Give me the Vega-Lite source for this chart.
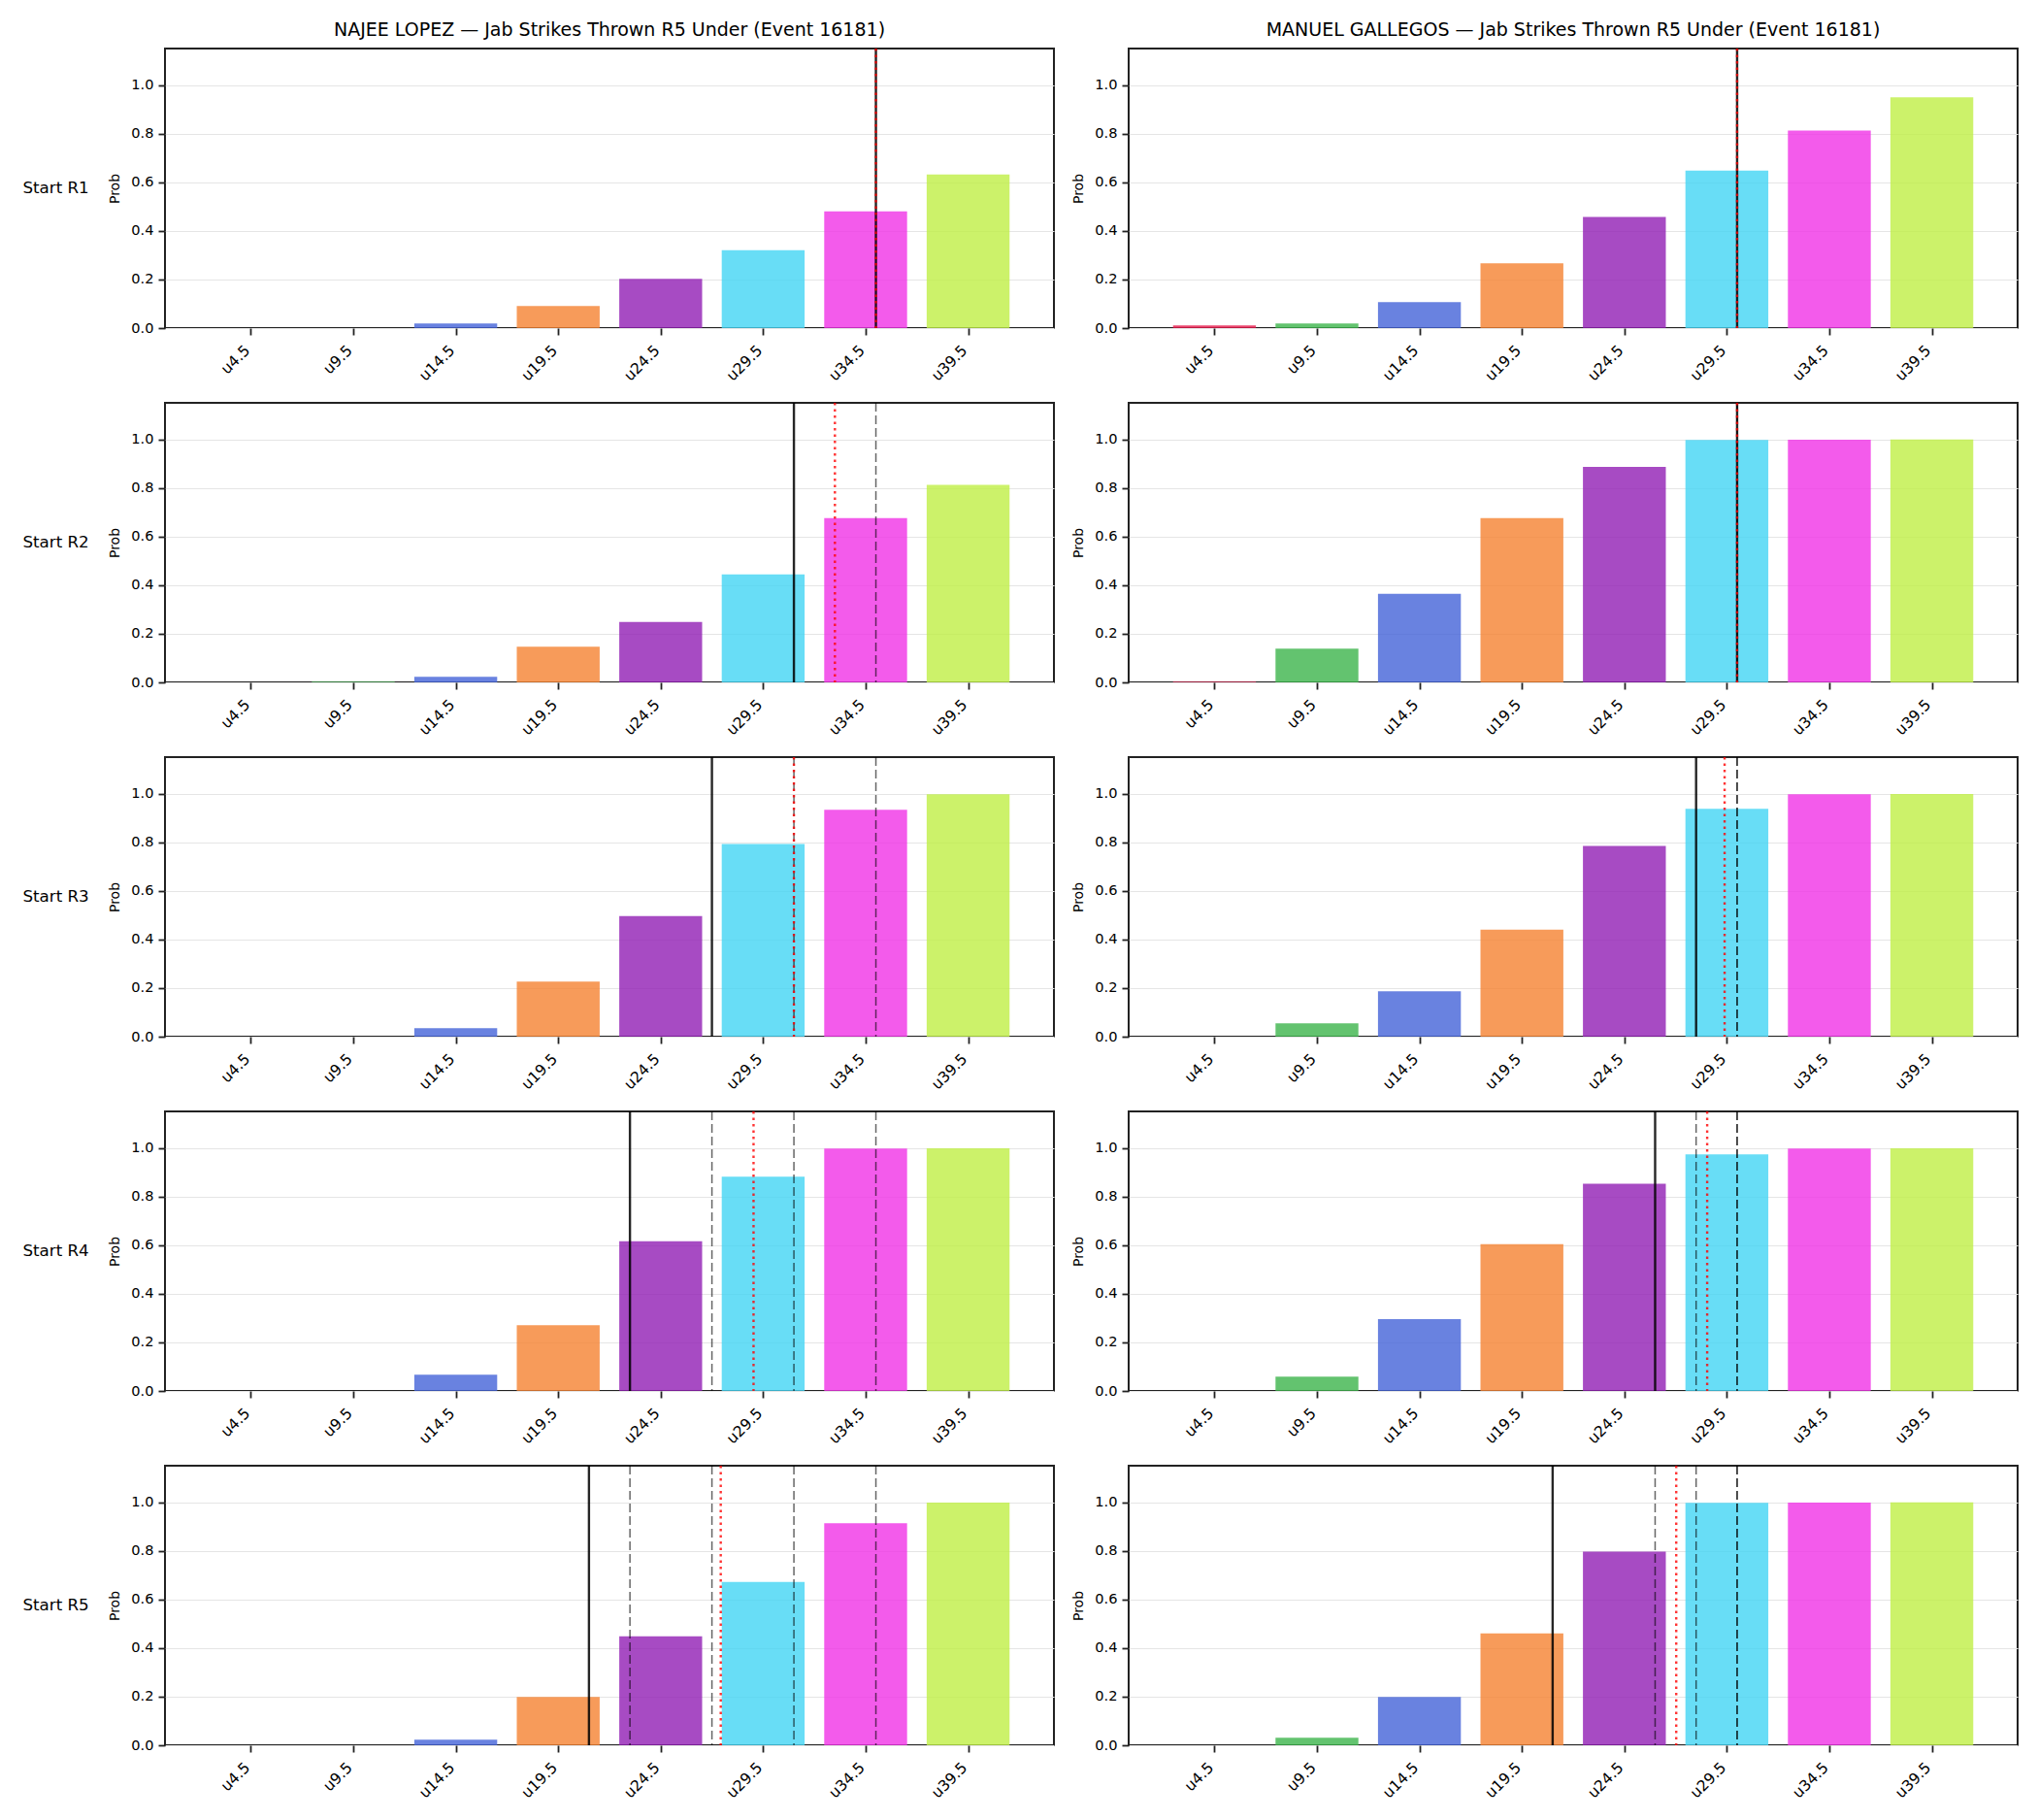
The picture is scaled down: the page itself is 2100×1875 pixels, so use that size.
{
  "$schema": "https://vega.github.io/schema/vega-lite/v6.json",
  "padding": {"left": 23, "top": 22, "right": 17, "bottom": 5},
  "config": {
    "font": "DejaVu Sans",
    "view": {"stroke": "#222", "strokeWidth": 2},
    "axis": {"labelColor": "#000", "titleColor": "#000", "tickColor": "#222", "domain": false}
  },
  "data": {
    "values": [
      {"fighter": "NAJEE LOPEZ", "round": "Start R1", "kind": "prob", "strikes": 4.5, "prob": 0},
      {"fighter": "NAJEE LOPEZ", "round": "Start R1", "kind": "prob", "strikes": 9.5, "prob": 0},
      {"fighter": "NAJEE LOPEZ", "round": "Start R1", "kind": "prob", "strikes": 14.5, "prob": 0.019},
      {"fighter": "NAJEE LOPEZ", "round": "Start R1", "kind": "prob", "strikes": 19.5, "prob": 0.091},
      {"fighter": "NAJEE LOPEZ", "round": "Start R1", "kind": "prob", "strikes": 24.5, "prob": 0.203},
      {"fighter": "NAJEE LOPEZ", "round": "Start R1", "kind": "prob", "strikes": 29.5, "prob": 0.32},
      {"fighter": "NAJEE LOPEZ", "round": "Start R1", "kind": "prob", "strikes": 34.5, "prob": 0.48},
      {"fighter": "NAJEE LOPEZ", "round": "Start R1", "kind": "prob", "strikes": 39.5, "prob": 0.632},
      {"fighter": "NAJEE LOPEZ", "round": "Start R2", "kind": "prob", "strikes": 4.5, "prob": 0},
      {"fighter": "NAJEE LOPEZ", "round": "Start R2", "kind": "prob", "strikes": 9.5, "prob": 0.003},
      {"fighter": "NAJEE LOPEZ", "round": "Start R2", "kind": "prob", "strikes": 14.5, "prob": 0.023},
      {"fighter": "NAJEE LOPEZ", "round": "Start R2", "kind": "prob", "strikes": 19.5, "prob": 0.147},
      {"fighter": "NAJEE LOPEZ", "round": "Start R2", "kind": "prob", "strikes": 24.5, "prob": 0.249},
      {"fighter": "NAJEE LOPEZ", "round": "Start R2", "kind": "prob", "strikes": 29.5, "prob": 0.444},
      {"fighter": "NAJEE LOPEZ", "round": "Start R2", "kind": "prob", "strikes": 34.5, "prob": 0.676},
      {"fighter": "NAJEE LOPEZ", "round": "Start R2", "kind": "prob", "strikes": 39.5, "prob": 0.813},
      {"fighter": "NAJEE LOPEZ", "round": "Start R3", "kind": "prob", "strikes": 4.5, "prob": 0},
      {"fighter": "NAJEE LOPEZ", "round": "Start R3", "kind": "prob", "strikes": 9.5, "prob": 0},
      {"fighter": "NAJEE LOPEZ", "round": "Start R3", "kind": "prob", "strikes": 14.5, "prob": 0.035},
      {"fighter": "NAJEE LOPEZ", "round": "Start R3", "kind": "prob", "strikes": 19.5, "prob": 0.227},
      {"fighter": "NAJEE LOPEZ", "round": "Start R3", "kind": "prob", "strikes": 24.5, "prob": 0.496},
      {"fighter": "NAJEE LOPEZ", "round": "Start R3", "kind": "prob", "strikes": 29.5, "prob": 0.793},
      {"fighter": "NAJEE LOPEZ", "round": "Start R3", "kind": "prob", "strikes": 34.5, "prob": 0.933},
      {"fighter": "NAJEE LOPEZ", "round": "Start R3", "kind": "prob", "strikes": 39.5, "prob": 0.997},
      {"fighter": "NAJEE LOPEZ", "round": "Start R4", "kind": "prob", "strikes": 4.5, "prob": 0},
      {"fighter": "NAJEE LOPEZ", "round": "Start R4", "kind": "prob", "strikes": 9.5, "prob": 0},
      {"fighter": "NAJEE LOPEZ", "round": "Start R4", "kind": "prob", "strikes": 14.5, "prob": 0.067},
      {"fighter": "NAJEE LOPEZ", "round": "Start R4", "kind": "prob", "strikes": 19.5, "prob": 0.271},
      {"fighter": "NAJEE LOPEZ", "round": "Start R4", "kind": "prob", "strikes": 24.5, "prob": 0.616},
      {"fighter": "NAJEE LOPEZ", "round": "Start R4", "kind": "prob", "strikes": 29.5, "prob": 0.881},
      {"fighter": "NAJEE LOPEZ", "round": "Start R4", "kind": "prob", "strikes": 34.5, "prob": 0.997},
      {"fighter": "NAJEE LOPEZ", "round": "Start R4", "kind": "prob", "strikes": 39.5, "prob": 0.998},
      {"fighter": "NAJEE LOPEZ", "round": "Start R5", "kind": "prob", "strikes": 4.5, "prob": 0},
      {"fighter": "NAJEE LOPEZ", "round": "Start R5", "kind": "prob", "strikes": 9.5, "prob": 0},
      {"fighter": "NAJEE LOPEZ", "round": "Start R5", "kind": "prob", "strikes": 14.5, "prob": 0.023},
      {"fighter": "NAJEE LOPEZ", "round": "Start R5", "kind": "prob", "strikes": 19.5, "prob": 0.199},
      {"fighter": "NAJEE LOPEZ", "round": "Start R5", "kind": "prob", "strikes": 24.5, "prob": 0.448},
      {"fighter": "NAJEE LOPEZ", "round": "Start R5", "kind": "prob", "strikes": 29.5, "prob": 0.672},
      {"fighter": "NAJEE LOPEZ", "round": "Start R5", "kind": "prob", "strikes": 34.5, "prob": 0.913},
      {"fighter": "NAJEE LOPEZ", "round": "Start R5", "kind": "prob", "strikes": 39.5, "prob": 0.998},
      {"fighter": "MANUEL GALLEGOS", "round": "Start R1", "kind": "prob", "strikes": 4.5, "prob": 0.011},
      {"fighter": "MANUEL GALLEGOS", "round": "Start R1", "kind": "prob", "strikes": 9.5, "prob": 0.019},
      {"fighter": "MANUEL GALLEGOS", "round": "Start R1", "kind": "prob", "strikes": 14.5, "prob": 0.107},
      {"fighter": "MANUEL GALLEGOS", "round": "Start R1", "kind": "prob", "strikes": 19.5, "prob": 0.267},
      {"fighter": "MANUEL GALLEGOS", "round": "Start R1", "kind": "prob", "strikes": 24.5, "prob": 0.457},
      {"fighter": "MANUEL GALLEGOS", "round": "Start R1", "kind": "prob", "strikes": 29.5, "prob": 0.648},
      {"fighter": "MANUEL GALLEGOS", "round": "Start R1", "kind": "prob", "strikes": 34.5, "prob": 0.813},
      {"fighter": "MANUEL GALLEGOS", "round": "Start R1", "kind": "prob", "strikes": 39.5, "prob": 0.949},
      {"fighter": "MANUEL GALLEGOS", "round": "Start R2", "kind": "prob", "strikes": 4.5, "prob": 0.003},
      {"fighter": "MANUEL GALLEGOS", "round": "Start R2", "kind": "prob", "strikes": 9.5, "prob": 0.139},
      {"fighter": "MANUEL GALLEGOS", "round": "Start R2", "kind": "prob", "strikes": 14.5, "prob": 0.364},
      {"fighter": "MANUEL GALLEGOS", "round": "Start R2", "kind": "prob", "strikes": 19.5, "prob": 0.676},
      {"fighter": "MANUEL GALLEGOS", "round": "Start R2", "kind": "prob", "strikes": 24.5, "prob": 0.886},
      {"fighter": "MANUEL GALLEGOS", "round": "Start R2", "kind": "prob", "strikes": 29.5, "prob": 0.997},
      {"fighter": "MANUEL GALLEGOS", "round": "Start R2", "kind": "prob", "strikes": 34.5, "prob": 0.998},
      {"fighter": "MANUEL GALLEGOS", "round": "Start R2", "kind": "prob", "strikes": 39.5, "prob": 0.999},
      {"fighter": "MANUEL GALLEGOS", "round": "Start R3", "kind": "prob", "strikes": 4.5, "prob": 0},
      {"fighter": "MANUEL GALLEGOS", "round": "Start R3", "kind": "prob", "strikes": 9.5, "prob": 0.055},
      {"fighter": "MANUEL GALLEGOS", "round": "Start R3", "kind": "prob", "strikes": 14.5, "prob": 0.187},
      {"fighter": "MANUEL GALLEGOS", "round": "Start R3", "kind": "prob", "strikes": 19.5, "prob": 0.44},
      {"fighter": "MANUEL GALLEGOS", "round": "Start R3", "kind": "prob", "strikes": 24.5, "prob": 0.785},
      {"fighter": "MANUEL GALLEGOS", "round": "Start R3", "kind": "prob", "strikes": 29.5, "prob": 0.937},
      {"fighter": "MANUEL GALLEGOS", "round": "Start R3", "kind": "prob", "strikes": 34.5, "prob": 0.997},
      {"fighter": "MANUEL GALLEGOS", "round": "Start R3", "kind": "prob", "strikes": 39.5, "prob": 0.998},
      {"fighter": "MANUEL GALLEGOS", "round": "Start R4", "kind": "prob", "strikes": 4.5, "prob": 0},
      {"fighter": "MANUEL GALLEGOS", "round": "Start R4", "kind": "prob", "strikes": 9.5, "prob": 0.059},
      {"fighter": "MANUEL GALLEGOS", "round": "Start R4", "kind": "prob", "strikes": 14.5, "prob": 0.295},
      {"fighter": "MANUEL GALLEGOS", "round": "Start R4", "kind": "prob", "strikes": 19.5, "prob": 0.604},
      {"fighter": "MANUEL GALLEGOS", "round": "Start R4", "kind": "prob", "strikes": 24.5, "prob": 0.853},
      {"fighter": "MANUEL GALLEGOS", "round": "Start R4", "kind": "prob", "strikes": 29.5, "prob": 0.973},
      {"fighter": "MANUEL GALLEGOS", "round": "Start R4", "kind": "prob", "strikes": 34.5, "prob": 0.997},
      {"fighter": "MANUEL GALLEGOS", "round": "Start R4", "kind": "prob", "strikes": 39.5, "prob": 0.998},
      {"fighter": "MANUEL GALLEGOS", "round": "Start R5", "kind": "prob", "strikes": 4.5, "prob": 0},
      {"fighter": "MANUEL GALLEGOS", "round": "Start R5", "kind": "prob", "strikes": 9.5, "prob": 0.031},
      {"fighter": "MANUEL GALLEGOS", "round": "Start R5", "kind": "prob", "strikes": 14.5, "prob": 0.199},
      {"fighter": "MANUEL GALLEGOS", "round": "Start R5", "kind": "prob", "strikes": 19.5, "prob": 0.46},
      {"fighter": "MANUEL GALLEGOS", "round": "Start R5", "kind": "prob", "strikes": 24.5, "prob": 0.797},
      {"fighter": "MANUEL GALLEGOS", "round": "Start R5", "kind": "prob", "strikes": 29.5, "prob": 0.997},
      {"fighter": "MANUEL GALLEGOS", "round": "Start R5", "kind": "prob", "strikes": 34.5, "prob": 0.998},
      {"fighter": "MANUEL GALLEGOS", "round": "Start R5", "kind": "prob", "strikes": 39.5, "prob": 0.999},

      {"fighter": "NAJEE LOPEZ", "round": "Start R1", "kind": "current", "strikes": 35},
      {"fighter": "NAJEE LOPEZ", "round": "Start R2", "kind": "current", "strikes": 31},
      {"fighter": "NAJEE LOPEZ", "round": "Start R3", "kind": "current", "strikes": 27},
      {"fighter": "NAJEE LOPEZ", "round": "Start R4", "kind": "current", "strikes": 23},
      {"fighter": "NAJEE LOPEZ", "round": "Start R5", "kind": "current", "strikes": 21},
      {"fighter": "MANUEL GALLEGOS", "round": "Start R1", "kind": "current", "strikes": 30},
      {"fighter": "MANUEL GALLEGOS", "round": "Start R2", "kind": "current", "strikes": 30},
      {"fighter": "MANUEL GALLEGOS", "round": "Start R3", "kind": "current", "strikes": 28},
      {"fighter": "MANUEL GALLEGOS", "round": "Start R4", "kind": "current", "strikes": 26},
      {"fighter": "MANUEL GALLEGOS", "round": "Start R5", "kind": "current", "strikes": 21},

      {"fighter": "NAJEE LOPEZ", "round": "Start R1", "kind": "market", "strikes": 35},
      {"fighter": "NAJEE LOPEZ", "round": "Start R2", "kind": "market", "strikes": 33},
      {"fighter": "NAJEE LOPEZ", "round": "Start R3", "kind": "market", "strikes": 31},
      {"fighter": "NAJEE LOPEZ", "round": "Start R4", "kind": "market", "strikes": 29.03},
      {"fighter": "NAJEE LOPEZ", "round": "Start R5", "kind": "market", "strikes": 27.43},
      {"fighter": "MANUEL GALLEGOS", "round": "Start R1", "kind": "market", "strikes": 30},
      {"fighter": "MANUEL GALLEGOS", "round": "Start R2", "kind": "market", "strikes": 30},
      {"fighter": "MANUEL GALLEGOS", "round": "Start R3", "kind": "market", "strikes": 29.39},
      {"fighter": "MANUEL GALLEGOS", "round": "Start R4", "kind": "market", "strikes": 28.54},
      {"fighter": "MANUEL GALLEGOS", "round": "Start R5", "kind": "market", "strikes": 27.03},

      {"fighter": "NAJEE LOPEZ", "round": "Start R2", "kind": "previous", "strikes": 35},
      {"fighter": "NAJEE LOPEZ", "round": "Start R3", "kind": "previous", "strikes": 35},
      {"fighter": "NAJEE LOPEZ", "round": "Start R3", "kind": "previous", "strikes": 31},
      {"fighter": "NAJEE LOPEZ", "round": "Start R4", "kind": "previous", "strikes": 35},
      {"fighter": "NAJEE LOPEZ", "round": "Start R4", "kind": "previous", "strikes": 31},
      {"fighter": "NAJEE LOPEZ", "round": "Start R4", "kind": "previous", "strikes": 27},
      {"fighter": "NAJEE LOPEZ", "round": "Start R5", "kind": "previous", "strikes": 35},
      {"fighter": "NAJEE LOPEZ", "round": "Start R5", "kind": "previous", "strikes": 31},
      {"fighter": "NAJEE LOPEZ", "round": "Start R5", "kind": "previous", "strikes": 27},
      {"fighter": "NAJEE LOPEZ", "round": "Start R5", "kind": "previous", "strikes": 23},
      {"fighter": "MANUEL GALLEGOS", "round": "Start R2", "kind": "previous", "strikes": 30},
      {"fighter": "MANUEL GALLEGOS", "round": "Start R3", "kind": "previous", "strikes": 30},
      {"fighter": "MANUEL GALLEGOS", "round": "Start R3", "kind": "previous", "strikes": 30},
      {"fighter": "MANUEL GALLEGOS", "round": "Start R4", "kind": "previous", "strikes": 30},
      {"fighter": "MANUEL GALLEGOS", "round": "Start R4", "kind": "previous", "strikes": 30},
      {"fighter": "MANUEL GALLEGOS", "round": "Start R4", "kind": "previous", "strikes": 28},
      {"fighter": "MANUEL GALLEGOS", "round": "Start R5", "kind": "previous", "strikes": 30},
      {"fighter": "MANUEL GALLEGOS", "round": "Start R5", "kind": "previous", "strikes": 30},
      {"fighter": "MANUEL GALLEGOS", "round": "Start R5", "kind": "previous", "strikes": 28},
      {"fighter": "MANUEL GALLEGOS", "round": "Start R5", "kind": "previous", "strikes": 26}
    ]
  },
  "facet": {
    "column": {
      "field": "fighter",
      "type": "nominal",
      "sort": ["NAJEE LOPEZ", "MANUEL GALLEGOS"],
      "title": null,
      "header": {
        "labelExpr": "datum.value + ' — Jab Strikes Thrown R5 Under (Event 16181)'",
        "labelFontSize": 19,
        "labelColor": "#000",
        "labelPadding": 6
      }
    },
    "row": {
      "field": "round",
      "type": "nominal",
      "title": null,
      "header": {
        "labelAngle": 0,
        "labelAlign": "right",
        "labelFontSize": 16.7,
        "labelColor": "#000",
        "labelPadding": -50
      }
    }
  },
  "spacing": {"row": 15, "column": 16},
  "resolve": {"axis": {"x": "independent", "y": "independent"}},
  "spec": {
    "width": 916,
    "height": 288,
    "encoding": {
      "x": {
        "field": "strikes",
        "type": "quantitative",
        "scale": {"domain": [0.55, 43.45], "nice": false, "zero": false},
        "axis": {
          "title": null,
          "values": [4.5, 9.5, 14.5, 19.5, 24.5, 29.5, 34.5, 39.5],
          "labelExpr": "'u' + datum.value",
          "labelAngle": -45,
          "labelAlign": "right",
          "labelBaseline": "top",
          "labelFontSize": 15.5,
          "labelPadding": 8,
          "labelOffset": -9,
          "tickSize": 7,
          "tickWidth": 1.8,
          "grid": false
        }
      }
    },
    "layer": [
      {
        "transform": [{"filter": "datum.kind === 'prob'"}],
        "mark": {"type": "bar", "width": 85.4, "opacity": 0.8},
        "encoding": {
          "y": {
            "field": "prob",
            "type": "quantitative",
            "scale": {"domain": [0, 1.15], "nice": false},
            "axis": {
              "title": "Prob",
              "titleFontSize": 14,
              "titleFontWeight": "normal",
              "titlePadding": 9,
              "values": [0, 0.2, 0.4, 0.6, 0.8, 1.0],
              "format": ".1f",
              "labelFontSize": 14.6,
              "labelPadding": 5,
              "tickSize": 7,
              "tickWidth": 1.8,
              "grid": true,
              "gridColor": "#e5e5e5",
              "gridWidth": 1
            }
          },
          "color": {
            "field": "strikes",
            "type": "ordinal",
            "scale": {
              "domain": [4.5, 9.5, 14.5, 19.5, 24.5, 29.5, 34.5, 39.5],
              "range": ["#e6194b", "#3cb44b", "#4363d8", "#f58231", "#911eb4", "#42d4f4", "#f032e6", "#bfef45"]
            },
            "legend": null
          }
        }
      },
      {
        "transform": [{"filter": "datum.kind === 'previous'"}],
        "mark": {"type": "rule", "color": "#000", "opacity": 0.6, "strokeWidth": 1.5, "strokeDash": [9, 4]},
        "encoding": {}
      },
      {
        "transform": [{"filter": "datum.kind === 'current'"}],
        "mark": {"type": "rule", "color": "#000", "opacity": 0.85, "strokeWidth": 2.4},
        "encoding": {}
      },
      {
        "transform": [{"filter": "datum.kind === 'market'"}],
        "mark": {"type": "rule", "color": "#ff0000", "opacity": 0.8, "strokeWidth": 2.4, "strokeDash": [2.5, 4]},
        "encoding": {}
      }
    ]
  }
}
